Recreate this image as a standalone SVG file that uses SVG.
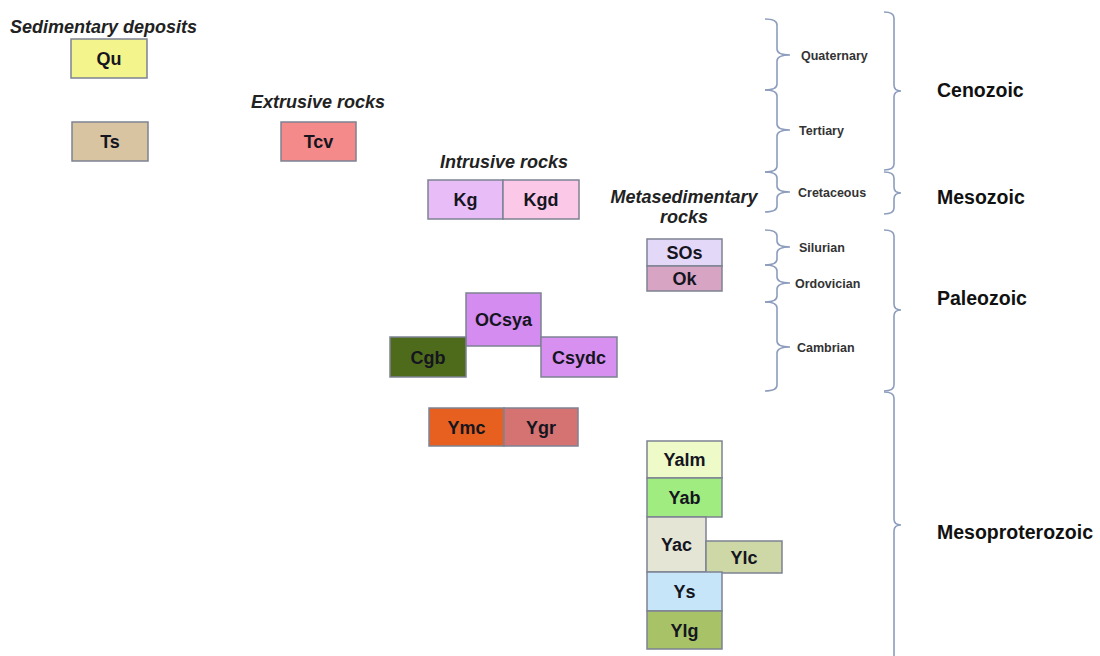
<svg xmlns="http://www.w3.org/2000/svg" width="1100" height="656" viewBox="0 0 1100 656">
<style>
.box{stroke:#7d8292;stroke-width:1.5}
.lbl{font-family:"Liberation Sans",Arial,sans-serif;font-weight:bold;font-size:18px;fill:#15151f;text-anchor:middle}
.hdr{font-family:"Liberation Sans",Arial,sans-serif;font-weight:bold;font-style:italic;font-size:18px;fill:#222}
.per{font-family:"Liberation Sans",Arial,sans-serif;font-weight:bold;font-size:12.5px;fill:#333}
.era{font-family:"Liberation Sans",Arial,sans-serif;font-weight:bold;font-size:19.5px;fill:#111}
.br{fill:none;stroke:#8d9dbd;stroke-width:1.6}
</style>
<rect width="1100" height="656" fill="#ffffff"/>
<g id="headers">
<text class="hdr" x="10" y="32.5">Sedimentary deposits</text>
<text class="hdr" x="251" y="108.3">Extrusive rocks</text>
<text class="hdr" x="440" y="168.3">Intrusive rocks</text>
<text class="hdr" x="684" y="202.7" text-anchor="middle">Metasedimentary</text>
<text class="hdr" x="684" y="222.7" text-anchor="middle">rocks</text>
</g>
<g id="Qu"><rect class="box" x="71" y="39" width="76" height="39" fill="#f4f48c"/><text class="lbl" x="109" y="65">Qu</text></g>
<g id="Ts"><rect class="box" x="72" y="122" width="76" height="39" fill="#d8c4a0"/><text class="lbl" x="110" y="148">Ts</text></g>
<g id="Tcv"><rect class="box" x="281" y="122" width="75" height="39" fill="#f48a8a"/><text class="lbl" x="318.5" y="148">Tcv</text></g>
<g id="Kg"><rect class="box" x="428" y="180" width="75" height="39" fill="#e8bcf7"/><text class="lbl" x="465.5" y="206">Kg</text></g>
<g id="Kgd"><rect class="box" x="503" y="180" width="76" height="39" fill="#fbc8e8"/><text class="lbl" x="541" y="206">Kgd</text></g>
<g id="SOs"><rect class="box" x="647" y="239" width="75" height="27" fill="#e4d8f8"/><text class="lbl" x="684.5" y="259">SOs</text></g>
<g id="Ok"><rect class="box" x="647" y="266" width="75" height="25" fill="#d8a4c4"/><text class="lbl" x="684.5" y="285">Ok</text></g>
<g id="OCsya"><rect class="box" x="466" y="293" width="75" height="53" fill="#d48cf0"/><text class="lbl" x="503.5" y="326">OCsya</text></g>
<g id="Cgb"><rect class="box" x="390" y="337" width="76" height="40" fill="#4e6b1c"/><text class="lbl" x="428" y="363.5">Cgb</text></g>
<g id="Csydc"><rect class="box" x="541" y="337" width="76" height="40" fill="#d890f0"/><text class="lbl" x="579" y="363.5">Csydc</text></g>
<g id="Ymc"><rect class="box" x="429" y="408" width="75" height="38" fill="#e86020"/><text class="lbl" x="466.5" y="433.5">Ymc</text></g>
<g id="Ygr"><rect class="box" x="504" y="408" width="74" height="38" fill="#d57373"/><text class="lbl" x="541" y="433.5">Ygr</text></g>
<g id="Yalm"><rect class="box" x="647" y="441" width="75" height="37" fill="#eefac8"/><text class="lbl" x="684.5" y="466">Yalm</text></g>
<g id="Yab"><rect class="box" x="647" y="478" width="75" height="39" fill="#a0ec80"/><text class="lbl" x="684.5" y="504">Yab</text></g>
<g id="Yac"><rect class="box" x="647" y="517" width="59" height="55" fill="#e5e5d5"/><text class="lbl" x="676.5" y="551">Yac</text></g>
<g id="Ylc"><rect class="box" x="706" y="541" width="76" height="32" fill="#cdd8a6"/><text class="lbl" x="744" y="563.5">Ylc</text></g>
<g id="Ys"><rect class="box" x="647" y="572" width="75" height="39" fill="#c6e5f9"/><text class="lbl" x="684.5" y="598">Ys</text></g>
<g id="Ylg"><rect class="box" x="647" y="611" width="75" height="38" fill="#a8c268"/><text class="lbl" x="684.5" y="636.5">Ylg</text></g>
<g id="connectors">
<path class="br" d="M765,19 Q777,19 777,25 L777,49 Q777,55 790,55 Q777,55 777,61 L777,84 Q777,90 765,90"/>
<path class="br" d="M765,90 Q777,90 777,96 L777,124 Q777,130 790,130 Q777,130 777,136 L777,166 Q777,172 765,172"/>
<path class="br" d="M765,172 Q777,172 777,178 L777,186 Q777,192 790,192 Q777,192 777,198 L777,206 Q777,212 765,212"/>
<path class="br" d="M765,230 Q777,230 777,236 L777,241 Q777,247 790,247 Q777,247 777,253 L777,259 Q777,265 765,265"/>
<path class="br" d="M765,265 Q777,265 777,271 L777,277 Q777,283 790,283 Q777,283 777,289 L777,296 Q777,302 765,302"/>
<path class="br" d="M765,302 Q777,302 777,308 L777,341 Q777,347 790,347 Q777,347 777,353 L777,385 Q777,391 765,391"/>
<path class="br" d="M884,12 Q894,12 894,18 L894,85 Q894,91 901,91 Q894,91 894,97 L894,164 Q894,170 884,170"/>
<path class="br" d="M884,172 Q894,172 894,178 L894,187 Q894,193 901,193 Q894,193 894,199 L894,208 Q894,214 884,214"/>
<path class="br" d="M884,230 Q894,230 894,236 L894,304 Q894,310 901,310 Q894,310 894,316 L894,385 Q894,391 884,391"/>
<path class="br" d="M884,392 Q894,392 894,398 L894,519 Q894,525 901,525 Q894,525 894,531 L894,660"/>
</g>
<g id="periods">
<text class="per" x="801" y="60">Quaternary</text>
<text class="per" x="799" y="134.5">Tertiary</text>
<text class="per" x="798" y="197">Cretaceous</text>
<text class="per" x="799" y="251.5">Silurian</text>
<text class="per" x="795" y="287.5">Ordovician</text>
<text class="per" x="797" y="352">Cambrian</text>
</g>
<g id="eras">
<text class="era" x="937" y="97">Cenozoic</text>
<text class="era" x="937" y="204">Mesozoic</text>
<text class="era" x="937" y="305">Paleozoic</text>
<text class="era" x="937" y="539">Mesoproterozoic</text>
</g>
</svg>
